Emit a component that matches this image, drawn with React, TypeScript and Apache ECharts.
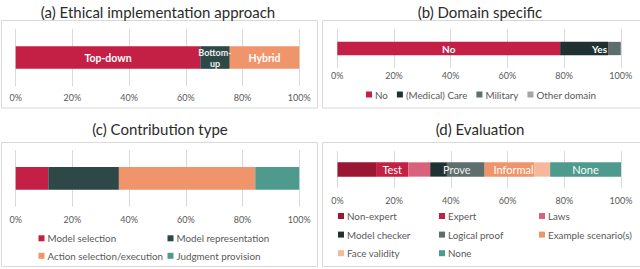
import React, { useEffect, useRef } from "react";
import * as echarts from "echarts";

// (a) Ethical implementation approach
const approachNames = ["Top-down", "Bottom-up", "Hybrid"];
const approachValues = [65.1, 10.4, 24.5];
const approachColors = ["#c41f44", "#2e4747", "#f0956b"];

// (b) Domain specific
const domainNames = ["No", "(Medical) Care", "Military", "Other domain"];
const domainValues = [78.6, 16.9, 4.5, 0];
const domainColors = ["#c41f44", "#1f3231", "#5e6e6c", "#a6a6a6"];

// (c) Contribution type
const contribNames = ["Model selection", "Model representation", "Action selection/execution", "Judgment provision"];
const contribValues = [11.5, 24.9, 48.1, 15.5];
const contribColors = ["#c41f44", "#2e4747", "#f0956b", "#4e9a8d"];

// (d) Evaluation
const evalNames = ["Non-expert", "Expert", "Laws", "Model checker", "Logical proof", "Example scenario(s)", "Face validity", "None"];
const evalValues = [13.6, 11.4, 7.7, 5.9, 13.3, 17.6, 5.5, 25.0];
const evalColors = ["#9a1632", "#c41f44", "#d8627b", "#1f3231", "#5e6e6c", "#f0956b", "#f5b89c", "#4e9a8d"];

const tickValues = [0, 20, 40, 60, 80, 100];

const titles = ["(a) Ethical implementation approach", "(b) Domain specific", "(c) Contribution type", "(d) Evaluation"];

const FONT = "Lato";
const LEGEND_FONT = "Lato";
const GRAY = "#595959";

export default function App() {
  const ref = useRef<HTMLDivElement>(null);
  useEffect(() => {
    document.body.style.margin = "0";
    const chart = echarts.init(ref.current!, null, { renderer: "svg" });

    const grids = [
      { left: 15.7, top: 29, width: 283.5, height: 57 },
      { left: 337.3, top: 29, width: 283.5, height: 39 },
      { left: 15.7, top: 150, width: 283.5, height: 56.7 },
      { left: 337.5, top: 151, width: 283.5, height: 37 },
    ];
    const labelMargins = [6.5, 2.5, 8.5, 7.5];
    const barWidths = [22.6, 13.3, 22.7, 14.3];

    const xAxes = grids.map((_, i) => ({
      type: "value",
      gridIndex: i,
      min: tickValues[0],
      max: tickValues[tickValues.length - 1],
      interval: 20,
      axisLine: { show: false },
      axisTick: { show: false },
      splitLine: { show: true, lineStyle: { color: "#d9d9d9", width: 1 } },
      axisLabel: {
        formatter: "{value}%",
        color: GRAY,
        fontSize: 9,
        fontFamily: FONT,
        margin: labelMargins[i],
      },
    }));
    const yAxes = grids.map((_, i) => ({
      type: "category",
      gridIndex: i,
      data: [""],
      show: false,
    }));

    const barLabel = (text: string, extra: any = {}) => ({
      show: true,
      formatter: text,
      color: "#ffffff",
      fontWeight: "bold",
      fontFamily: FONT,
      fontSize: 10.5,
      ...extra,
    });

    const series: any[] = [];
    const approachLabels = [
      barLabel("Top-down"),
      barLabel("Bottom-\nup", { fontSize: 9, lineHeight: 11, color: "#f0f0f0" }),
      barLabel("Hybrid"),
    ];
    approachNames.forEach((n, i) =>
      series.push({
        type: "bar", name: n, stack: "a", xAxisIndex: 0, yAxisIndex: 0,
        barWidth: barWidths[0], data: [approachValues[i]],
        itemStyle: { color: approachColors[i] }, label: approachLabels[i],
      })
    );
    const domainLabels: any[] = [
      barLabel("No", { fontSize: 10 }),
      barLabel("Yes", { position: "insideRight", distance: 1, fontSize: 10 }),
      { show: false },
      { show: false },
    ];
    domainNames.forEach((n, i) =>
      series.push({
        type: "bar", name: n, stack: "b", xAxisIndex: 1, yAxisIndex: 1,
        barWidth: barWidths[1], data: [domainValues[i]],
        itemStyle: { color: domainColors[i] }, label: domainLabels[i],
      })
    );
    contribNames.forEach((n, i) =>
      series.push({
        type: "bar", name: n, stack: "c", xAxisIndex: 2, yAxisIndex: 2,
        barWidth: barWidths[2], data: [contribValues[i]],
        itemStyle: { color: contribColors[i] }, label: { show: false },
      })
    );
    const evalLabels: any[] = [
      { show: false },
      barLabel("Test", { fontSize: 11, fontWeight: "normal" }),
      { show: false },
      { show: false },
      barLabel("Prove", { fontSize: 11, fontWeight: "normal", offset: [-9, 0], color: "#eeeeee" }),
      barLabel("Informal", { fontSize: 11, fontWeight: "normal", offset: [4, 0] }),
      { show: false },
      barLabel("None", { fontSize: 11, fontWeight: "normal" }),
    ];
    evalNames.forEach((n, i) =>
      series.push({
        type: "bar", name: n, stack: "d", xAxisIndex: 3, yAxisIndex: 3,
        barWidth: barWidths[3], data: [evalValues[i]],
        itemStyle: { color: evalColors[i] }, label: evalLabels[i],
      })
    );

    const legendBase = {
      icon: "rect",
      itemWidth: 6,
      itemHeight: 6,
      itemGap: 9,
      selectedMode: false,
      padding: 0,
      textStyle: { color: GRAY, fontSize: 9.8, fontFamily: LEGEND_FONT, lineHeight: 12, padding: [0, 0, 0, -2] },
    };
    const legends = [
      { ...legendBase, data: domainNames, left: 366, top: 88.5, orient: "horizontal" },
      { ...legendBase, data: [contribNames[0], contribNames[2]], left: 38.5, top: 232.3, orient: "vertical", itemGap: 5.5 },
      { ...legendBase, data: [contribNames[1], contribNames[3]], left: 167.5, top: 232.3, orient: "vertical", itemGap: 5.5 },
      { ...legendBase, data: [evalNames[0], evalNames[3], evalNames[6]], left: 338, top: 210, orient: "vertical", itemGap: 6.6 },
      { ...legendBase, data: [evalNames[1], evalNames[4], evalNames[7]], left: 439, top: 210, orient: "vertical", itemGap: 6.6 },
      { ...legendBase, data: [evalNames[2], evalNames[5]], left: 539, top: 210, orient: "vertical", itemGap: 6.6 },
    ];

    const boxStyle = { fill: "none", stroke: "#d9d9d9", lineWidth: 1 };
    const titleStyle = (x: number, y: number, t: string) => ({
      type: "text",
      x, y,
      style: { text: t, fill: "#2b2b2b", font: `15px ${FONT}`, textAlign: "center", textVerticalAlign: "middle" },
    });

    chart.setOption({
      animation: false,
      backgroundColor: "#ffffff",
      grid: grids,
      xAxis: xAxes,
      yAxis: yAxes,
      legend: legends,
      series,
      graphic: [
        { type: "rect", shape: { x: 1.5, y: 20.5, width: 316, height: 87.5 }, style: boxStyle, z: -1 },
        { type: "rect", shape: { x: 322.5, y: 20.5, width: 330, height: 87.5 }, style: boxStyle, z: -1 },
        { type: "rect", shape: { x: 1.5, y: 142.5, width: 316, height: 124 }, style: boxStyle, z: -1 },
        { type: "rect", shape: { x: 322.5, y: 142.5, width: 330, height: 124 }, style: boxStyle, z: -1 },
        titleStyle(158, 12, titles[0]),
        titleStyle(480, 12, titles[1]),
        titleStyle(160, 129, titles[2]),
        titleStyle(480, 129, titles[3]),
      ],
    });
    return () => chart.dispose();
  }, []);
  return <div ref={ref} style={{ position: "absolute", left: 0, top: 0, width: 640, height: 269 }} />;
}
